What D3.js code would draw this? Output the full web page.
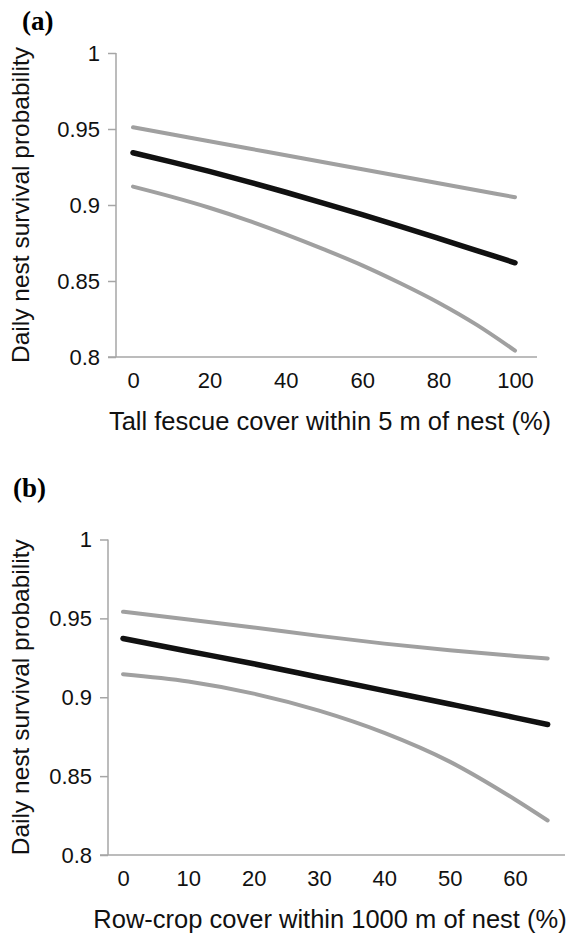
<!DOCTYPE html>
<html>
<head>
<meta charset="utf-8">
<script src="https://cdn.jsdelivr.net/npm/d3@7"></script>
<style>
  body { margin: 0; background: #fff; }
  svg { display: block; }
  .tick text { font-family: "Liberation Sans", Arial, sans-serif; fill: #111; }
</style>
</head>
<body>
<svg width="567" height="935"></svg>
<script>
// data
var fescueX = [0, 10, 20, 30, 40, 50, 60, 70, 80, 90, 100];
var fescueMean  = [0.9344, 0.9284, 0.9221, 0.9154, 0.9084, 0.9011, 0.8936, 0.8859, 0.8780, 0.8700, 0.8620];
var fescueUpper = [0.9511, 0.9465, 0.9419, 0.9373, 0.9327, 0.9281, 0.9235, 0.9189, 0.9143, 0.9097, 0.9051];
var fescueLower = [0.9121, 0.9055, 0.8982, 0.8899, 0.8807, 0.8708, 0.8603, 0.8485, 0.8357, 0.8211, 0.8042];

var rowX = [0, 10, 20, 30, 40, 50, 60, 65];
var rowMean  = [0.9372, 0.9292, 0.9212, 0.9127, 0.9042, 0.8957, 0.8871, 0.8827];
var rowUpper = [0.9542, 0.9493, 0.9442, 0.9389, 0.9340, 0.9298, 0.9262, 0.9246];
var rowLower = [0.9146, 0.9100, 0.9023, 0.8915, 0.8774, 0.8592, 0.8352, 0.8219];

var yTicks = [0.8, 0.85, 0.9, 0.95, 1];
var fescueTicks = [0, 20, 40, 60, 80, 100];
var rowTicks = [0, 10, 20, 30, 40, 50, 60];

var svg = d3.select("svg");
var axisColor = "#a6a6a6";

var panels = [
  {tag: "(a)", tagX: 22, tagY: 30, xs: fescueX, mean: fescueMean, upper: fescueUpper, lower: fescueLower,
   xDomain: [0, 100], xRange: [133, 515], yRange: [357, 53], axisX: 116, lineEnd: 537, lineStart: 108,
   ticks: fescueTicks, title: "Tall fescue cover within 5 m of nest (%)", titleY: 430},
  {tag: "(b)", tagX: 13, tagY: 497, xs: rowX, mean: rowMean, upper: rowUpper, lower: rowLower,
   xDomain: [0, 60], xRange: [123, 515], yRange: [855, 539.5], axisX: 108, lineEnd: 565, lineStart: 100,
   ticks: rowTicks, title: "Row-crop cover within 1000 m of nest (%)", titleY: 928}
];

panels.forEach(function(p) {
  var x = d3.scaleLinear().domain(p.xDomain).range(p.xRange);
  var y = d3.scaleLinear().domain([0.8, 1]).range(p.yRange);
  var g = svg.append("g");

  // panel letter
  g.append("text")
    .attr("x", p.tagX).attr("y", p.tagY)
    .style("font-family", "'Liberation Serif', 'Times New Roman', serif")
    .style("font-weight", "bold")
    .style("font-size", "27px")
    .text(p.tag);

  // y axis
  var yAxis = g.append("g")
    .attr("transform", "translate(" + p.axisX + ",0)")
    .call(d3.axisLeft(y).tickValues(yTicks).tickSize(8).tickPadding(8).tickFormat(function(d) { return d; }));
  yAxis.selectAll("path, line").attr("stroke", axisColor).attr("stroke-width", 1.5);
  yAxis.select(".domain").attr("d", "M0," + y(1) + "V" + y(0.8));
  yAxis.selectAll("text").style("font-size", "22px");

  // x axis, no tick marks
  var xAxis = g.append("g")
    .attr("transform", "translate(0," + y(0.8) + ")")
    .call(d3.axisBottom(x).tickValues(p.ticks).tickSize(0).tickPadding(15));
  xAxis.select(".domain").attr("d", "M" + p.lineStart + ",0H" + p.lineEnd)
    .attr("stroke", axisColor).attr("stroke-width", 1.5);
  xAxis.selectAll("text").style("font-size", "22px");

  // titles
  g.append("text")
    .attr("x", 330).attr("y", p.titleY)
    .attr("text-anchor", "middle")
    .style("font-family", "'Liberation Sans', Arial, sans-serif")
    .style("font-size", "25.5px")
    .attr("fill", "#111")
    .text(p.title);

  g.append("text")
    .attr("transform", "translate(29," + ((p.yRange[0] + p.yRange[1]) / 2) + ") rotate(-90)")
    .attr("text-anchor", "middle")
    .style("font-family", "'Liberation Sans', Arial, sans-serif")
    .style("font-size", "24.5px")
    .attr("fill", "#111")
    .text("Daily nest survival probability");

  // curves
  var line = d3.line()
    .x(function(d) { return x(d[0]); })
    .y(function(d) { return y(d[1]); })
    .curve(d3.curveMonotoneX);

  [[p.upper, "#a0a0a0", 4], [p.lower, "#a0a0a0", 4], [p.mean, "#111", 5.5]].forEach(function(s) {
    g.append("path")
      .datum(p.xs.map(function(v, i) { return [v, s[0][i]]; }))
      .attr("d", line)
      .attr("fill", "none")
      .attr("stroke", s[1])
      .attr("stroke-width", s[2])
      .attr("stroke-linecap", "round");
  });
});
</script>
</body>
</html>
